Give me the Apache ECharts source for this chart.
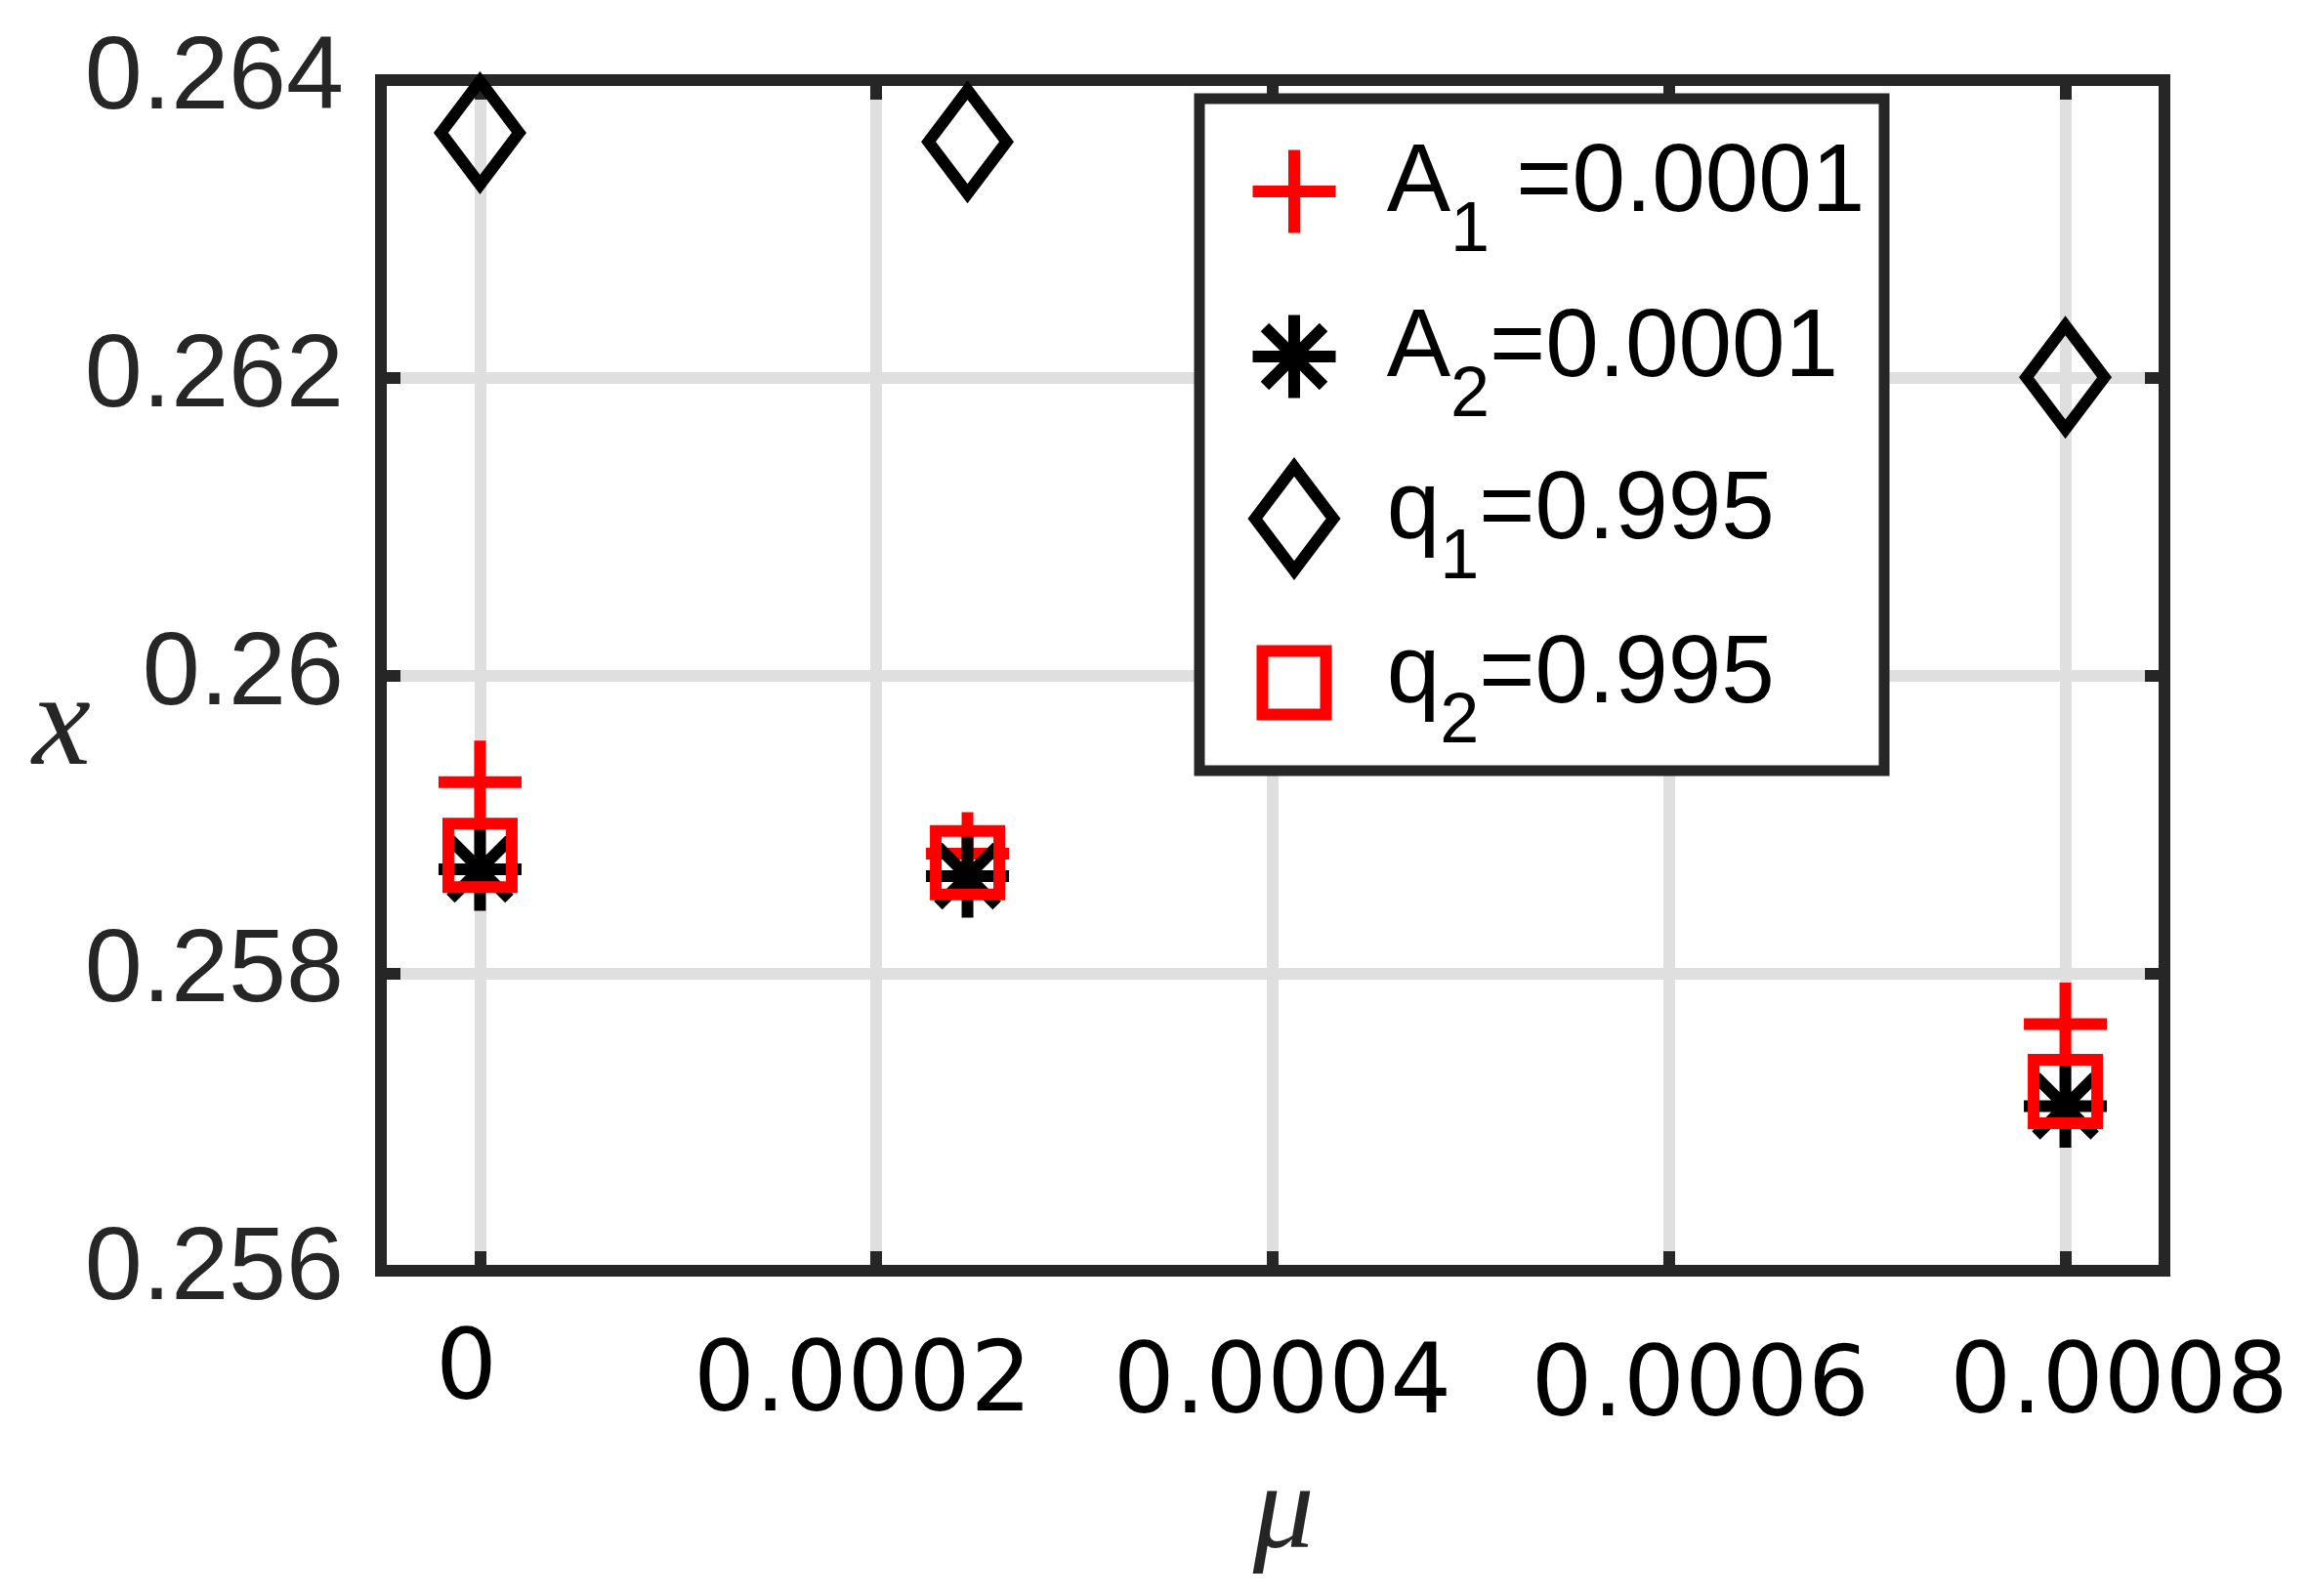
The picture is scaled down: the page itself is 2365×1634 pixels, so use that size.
<!DOCTYPE html>
<html>
<head>
<meta charset="utf-8">
<script src="https://cdn.jsdelivr.net/npm/echarts@6/dist/echarts.min.js"></script>
<style>html,body{margin:0;padding:0;background:#fff;}#c{width:2365px;height:1634px;}</style>
</head>
<body>
<div id="c"></div>
<script>
// ---- data ----
const muValues = [0, 0.000246, 0.0008];
const A1Values = [0.259283, 0.258802, 0.257657];
const A2Values = [0.258697, 0.258651, 0.257106];
const q1Values = [0.263646, 0.263585, 0.262003];
const q2Values = [0.258791, 0.258741, 0.257205];
const xTickValues = [0, 0.0002, 0.0004, 0.0006, 0.0008];
const xTickLabels = ['0', '0.0002', '0.0004', '0.0006', '0.0008'];
const seriesNames = ['A1', 'A2', 'q1', 'q2'];
const legendLabels = [['A', '1', ' =0.0001'], ['A', '2', '=0.0001'], ['q', '1', '=0.995'], ['q', '2', '=0.995']];

// ---- styling ----
const DARK = '#262626';
const GRIDC = '#dfdfdf';
const X_MIN = -0.00005, X_MAX = 0.00085;
const Y_MIN = 0.256, Y_MAX = 0.264, Y_INT = 0.002;
const GL = 390, GT = 82, GW = 1826, GH = 1219;

const plusPath = 'path://M0,-1L0,1M-1,0L1,0';
const starPath = 'path://M0,-1L0,1M-1,0L1,0M-0.7071,-0.7071L0.7071,0.7071M-0.7071,0.7071L0.7071,-0.7071';
const diamondPath = 'path://M0,-53L40,0L0,53L-40,0Z';

function pts(ys) { return muValues.map((x, i) => [x, ys[i]]); }

// per-label offsets for x tick labels [padTop, padRight, padBottom, padLeft]
const xLabelPads = [[5, 28, 0, 0], [30, 28, 0, 0], [34, 0, 0, 20], [40, 0, 0, 64], [34, 0, 0, 110]];
const xRich = {};
xTickLabels.forEach((t, i) => {
  xRich['t' + i] = { fontFamily: 'DejaVu Sans', fontSize: 99, lineHeight: 99, color: '#000', padding: xLabelPads[i] };
});
function xLabelFmt(v) {
  const idx = xTickValues.findIndex(t => Math.abs(t - v) < 1e-9);
  if (idx < 0) return '';
  return '{t' + idx + '|' + xTickLabels[idx] + '}';
}
// two label groups so that the shifted labels don't hide each other
const xLabelsA = xTickValues.filter((v, i) => i !== 3);
const xLabelsB = xTickValues.filter((v, i) => i === 3);

const symbols = [plusPath, starPath, diamondPath, 'rect'];
const sizes = [85, 85, 106, 65];
const colors = ['#ff0000', '#000000', '#000000', '#ff0000'];
const iconW = [85, 85, 80, 65];
const iconH = [85, 85, 106, 65];
const rowCenters = [192, 361, 527, 695];

const series = [A1Values, A2Values, q1Values, q2Values].map((vals, k) => ({
  name: seriesNames[k],
  type: 'scatter',
  data: pts(vals),
  symbol: symbols[k],
  symbolSize: sizes[k],
  symbolKeepAspect: true,
  itemStyle: { color: 'rgba(0,0,0,0)', borderColor: colors[k], borderWidth: 12, opacity: 1 },
  emphasis: { disabled: true },
  silent: true,
  z: 2
}));

const legends = seriesNames.map((nm, k) => {
  const padL = 89.7 - iconW[k] / 2;
  const lab = legendLabels[k];
  return {
    data: [nm],
    left: 1325 - 6 - iconW[k] / 2,
    top: rowCenters[k] - 73,
    padding: 0,
    itemWidth: iconW[k],
    itemHeight: iconH[k],
    selectedMode: false,
    itemStyle: { borderWidth: 12 },
    formatter: () => '{m0|' + lab[0] + '}{s|' + lab[1] + '}{m|' + lab[2] + '}',
    textStyle: {
      color: '#000',
      rich: {
        m0: { fontFamily: 'Liberation Sans', fontSize: 98, lineHeight: 98, color: '#000', padding: [0, 0, 14, padL] },
        m: { fontFamily: 'Liberation Sans', fontSize: 98, lineHeight: 98, color: '#000', padding: [0, 0, 14, 0] },
        s: { fontFamily: 'Liberation Sans', fontSize: 72, lineHeight: 72, color: '#000', padding: [82, 0, 0, 0] }
      }
    },
    z: 5
  };
});

function hiddenX(extra) {
  return Object.assign({
    type: 'value', position: 'bottom', min: X_MIN, max: X_MAX, z: 1,
    axisLine: { show: false, onZero: false },
    axisTick: { show: false },
    axisLabel: { show: false },
    splitLine: { show: false }
  }, extra);
}

const option = {
  backgroundColor: '#fff',
  animation: false,
  grid: { left: GL, top: GT, width: GW, height: GH, show: true, borderColor: DARK, borderWidth: 12, backgroundColor: 'transparent', z: 1 },
  xAxis: [
    hiddenX({
      axisTick: { show: true, inside: true, length: 20, customValues: xTickValues, lineStyle: { color: DARK, width: 12 } },
      axisLabel: { show: true, margin: 53, customValues: xLabelsA, hideOverlap: false, formatter: xLabelFmt, rich: xRich },
      name: 'μ', nameLocation: 'middle', nameGap: 250,
      nameTextStyle: { fontFamily: 'Liberation Serif', fontStyle: 'italic', fontSize: 125, color: DARK, align: 'center', verticalAlign: 'middle', padding: [0, 0, 0, 22] }
    }),
    hiddenX({
      position: 'top',
      axisTick: { show: true, inside: true, length: 20, customValues: xTickValues, lineStyle: { color: DARK, width: 12 } }
    }),
    hiddenX({
      z: 0,
      axisTick: { show: true, inside: true, length: GH, customValues: xTickValues, lineStyle: { color: GRIDC, width: 12 } }
    }),
    hiddenX({
      axisLabel: { show: true, margin: 53, customValues: xLabelsB, hideOverlap: false, formatter: xLabelFmt, rich: xRich }
    })
  ],
  yAxis: [
    {
      type: 'value', position: 'left', min: Y_MIN, max: Y_MAX, interval: Y_INT, z: 1,
      axisLine: { show: false, onZero: false },
      axisTick: { show: true, inside: true, length: 20, lineStyle: { color: DARK, width: 12 } },
      axisLabel: { show: true, margin: 38, fontFamily: 'Liberation Sans', fontSize: 106, color: DARK, padding: [10, 0, 0, 0] },
      splitLine: { show: false },
      name: 'x', nameLocation: 'middle', nameGap: 327, nameRotate: 0, nameMoveOverlap: false,
      nameTextStyle: { fontFamily: 'Liberation Serif', fontStyle: 'italic', fontSize: 135, lineHeight: 110, color: DARK, align: 'center', verticalAlign: 'top' }
    },
    {
      type: 'value', position: 'right', min: Y_MIN, max: Y_MAX, interval: Y_INT, z: 1,
      axisLine: { show: false, onZero: false },
      axisTick: { show: true, inside: true, length: 20, lineStyle: { color: DARK, width: 12 } },
      axisLabel: { show: false },
      splitLine: { show: false }
    },
    {
      type: 'value', position: 'left', min: Y_MIN, max: Y_MAX, interval: Y_INT, z: 0,
      axisLine: { show: false, onZero: false },
      axisTick: { show: false },
      axisLabel: { show: false },
      splitLine: { show: true, lineStyle: { color: GRIDC, width: 12 } }
    }
  ],
  legend: legends,
  graphic: [{
    type: 'rect', z: 3,
    shape: { x: 1228, y: 101, width: 701, height: 688 },
    style: { fill: '#fff', stroke: DARK, lineWidth: 11 }
  }],
  series: series
};

const chart = echarts.init(document.getElementById('c'), null, { renderer: 'canvas' });
chart.setOption(option);
</script>
</body>
</html>
